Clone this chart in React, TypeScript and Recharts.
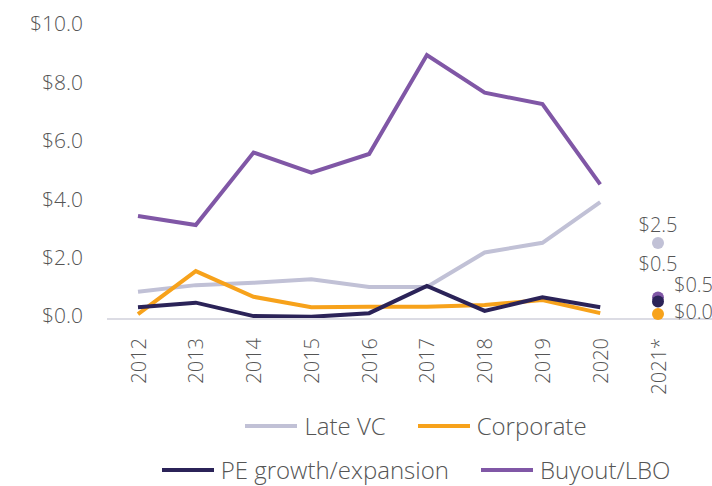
import React from 'react';
import { LineChart, Line, XAxis, YAxis, Legend, LabelList } from 'recharts';

const years = ['2012', '2013', '2014', '2015', '2016', '2017', '2018', '2019', '2020', '2021*'];
const lateVC = [0.93, 1.16, 1.24, 1.36, 1.1, 1.1, 2.28, 2.61, 4.0];
const corporate = [0.17, 1.64, 0.76, 0.4, 0.42, 0.42, 0.48, 0.65, 0.2];
const peGrowth = [0.4, 0.56, 0.1, 0.08, 0.2, 1.13, 0.28, 0.74, 0.4];
const buyout = [3.53, 3.22, 5.7, 5.01, 5.65, 9.04, 7.75, 7.36, 4.61];
const yTicks = [0, 2, 4, 6, 8, 10];

const lateVC2021 = 2.6;
const buyout2021 = 0.74;
const peGrowth2021 = 0.6;
const corporate2021 = 0.17;
const lateVC2021Label = '$2.5';
const buyout2021Label = '$0.5';
const peGrowth2021Label = '$0.5';
const corporate2021Label = '$0.0';

const C_LATE = '#c1c1d6';
const C_CORP = '#f7a21b';
const C_PE = '#2b2358';
const C_BUY = '#8057a6';
const TEXT = '#555555';
const FONT = '"Open Sans", "Noto Sans", sans-serif';

const last = years.length - 1;
const data = years.map((year, i) => ({
  year,
  lateVC: i < lateVC.length ? lateVC[i] : null,
  corporate: i < corporate.length ? corporate[i] : null,
  peGrowth: i < peGrowth.length ? peGrowth[i] : null,
  buyout: i < buyout.length ? buyout[i] : null,
  lateVC21: i === last ? lateVC2021 : null,
  buyout21: i === last ? buyout2021 : null,
  peGrowth21: i === last ? peGrowth2021 : null,
  corporate21: i === last ? corporate2021 : null,
}));

const makeLabel = (text: string, dx: number, dy: number, anchor: 'start' | 'middle' | 'end') =>
  (props: any) => {
    if (props.value == null || props.x == null) return null;
    return (
      <text
        x={Number(props.x) + dx}
        y={Number(props.y) + dy}
        textAnchor={anchor}
        dominantBaseline="central"
        fill={TEXT}
        fontSize={20}
        fontFamily={FONT}
        fontWeight={300}
      >
        {text}
      </text>
    );
  };

const XTick = (props: any) => {
  const { x, y, payload } = props;
  return (
    <text
      x={x}
      y={y}
      transform={`rotate(-90, ${x}, ${y})`}
      textAnchor="end"
      dominantBaseline="central"
      fill={TEXT}
      fontSize={20}
      fontFamily={FONT}
      fontWeight={300}
    >
      {payload.value}
    </text>
  );
};

const legendRows = [
  [
    { label: 'Late VC', color: C_LATE },
    { label: 'Corporate', color: C_CORP },
  ],
  [
    { label: 'PE growth/expansion', color: C_PE },
    { label: 'Buyout/LBO', color: C_BUY },
  ],
];

const LegendContent = () => (
  <div style={{ width: 712, height: 92, position: 'relative', fontFamily: FONT, fontWeight: 300 }}>
    {legendRows.map((row, r) => (
      <div
        key={r}
        style={{
          position: 'absolute',
          top: r === 0 ? 17 : 61,
          left: 0,
          width: 712,
          height: 30,
          boxSizing: 'border-box',
          paddingLeft: 120,
          display: 'flex',
          justifyContent: 'center',
          alignItems: 'center',
          gap: 32,
        }}
      >
        {row.map((it) => (
          <div key={it.label} style={{ display: 'flex', alignItems: 'center' }}>
            <div style={{ width: 52, height: 4, background: it.color, marginRight: 7 }} />
            <span style={{ fontSize: 24, color: TEXT, lineHeight: '30px' }}>{it.label}</span>
          </div>
        ))}
      </div>
    ))}
  </div>
);

export default function App() {
  return (
    <div style={{ position: 'absolute', left: 0, top: 0 }}>
      <LineChart width={712} height={486} data={data} margin={{ top: 27, right: 0, bottom: 0, left: 0 }}>
        <XAxis
          dataKey="year"
          interval={0}
          height={75}
          tickSize={0}
          tickMargin={19}
          tick={<XTick />}
          axisLine={{ stroke: '#dcdce4', strokeWidth: 2 }}
          tickLine={false}
          padding={{ left: 31, right: 54 }}
        />
        <YAxis
          domain={[0, 10]}
          ticks={yTicks}
          width={107}
          tickSize={0}
          tickMargin={24}
          axisLine={false}
          tickLine={false}
          tickFormatter={(v: number) => `$${v.toFixed(1)}`}
          tick={{ fill: TEXT, fontSize: 21, fontFamily: FONT, fontWeight: 300, dy: -3 }}
        />
        <Legend verticalAlign="bottom" wrapperStyle={{ left: 0, width: 712 }} content={<LegendContent />} />
        <Line dataKey="buyout" stroke={C_BUY} strokeWidth={4} dot={false} activeDot={false} isAnimationActive={false} />
        <Line dataKey="lateVC" stroke={C_LATE} strokeWidth={4} dot={false} activeDot={false} isAnimationActive={false} />
        <Line dataKey="corporate" stroke={C_CORP} strokeWidth={4} dot={false} activeDot={false} isAnimationActive={false} />
        <Line dataKey="peGrowth" stroke={C_PE} strokeWidth={4} dot={false} activeDot={false} isAnimationActive={false} />
        <Line dataKey="lateVC21" stroke="none" dot={{ r: 6, fill: C_LATE, stroke: 'none' }} activeDot={false} isAnimationActive={false}>
          <LabelList dataKey="lateVC21" content={makeLabel(lateVC2021Label, 0, -19, 'middle')} />
        </Line>
        <Line dataKey="buyout21" stroke="none" dot={{ r: 6, fill: C_BUY, stroke: 'none' }} activeDot={false} isAnimationActive={false}>
          <LabelList dataKey="buyout21" content={makeLabel(buyout2021Label, 0, -34, 'middle')} />
        </Line>
        <Line dataKey="peGrowth21" stroke="none" dot={{ r: 6, fill: C_PE, stroke: 'none' }} activeDot={false} isAnimationActive={false}>
          <LabelList dataKey="peGrowth21" content={makeLabel(peGrowth2021Label, 16, -17, 'start')} />
        </Line>
        <Line dataKey="corporate21" stroke="none" dot={{ r: 6, fill: C_CORP, stroke: 'none' }} activeDot={false} isAnimationActive={false}>
          <LabelList dataKey="corporate21" content={makeLabel(corporate2021Label, 16, -3, 'start')} />
        </Line>
      </LineChart>
    </div>
  );
}
